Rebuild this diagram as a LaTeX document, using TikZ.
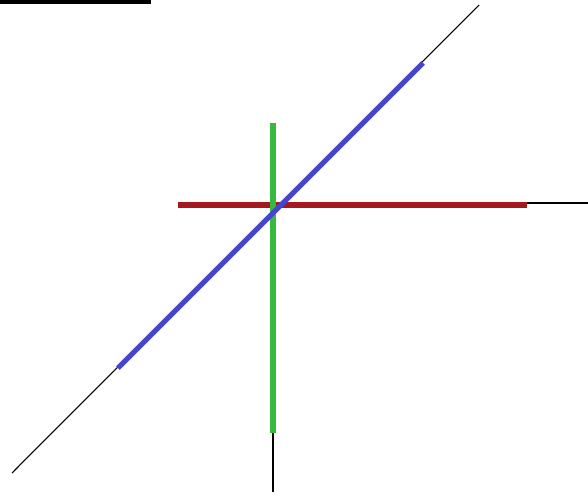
\documentclass[tikz,border=0pt]{standalone}
\usepackage{tikz}
\usetikzlibrary{positioning,calc}
\definecolor{axisred}{RGB}{165,25,30}
\definecolor{axisgreen}{RGB}{55,185,60}
\definecolor{axisblue}{RGB}{70,70,205}
\tikzset{
  thinaxis/.style={draw=black,line width=0.8pt},
  coloraxis/.style={line width=3.8pt},
}
\begin{document}
\begin{tikzpicture}[x=0.75pt,y=-0.75pt]
        \useasboundingbox (0,0) rectangle (588,496);
        \fill[black] (0,0) rectangle (151,4);
        % axis ends
        \coordinate (zlo) at (12,473);
        \coordinate (zhi) at (479,5);
        \coordinate (ylo) at (273,492);
        \coordinate (xhi) at (588,203);
        % coloured parts
        \coordinate (zbs) at (118,368);
        \coordinate (zbe) at (423,63);
        \coordinate (ygs) at (273,123);
        \coordinate (yge) at (273,433);
        \coordinate (xrs) at (178,205);
        \coordinate (xre) at (527,205);
        \draw[thinaxis] (zlo) -- (zhi);
        \draw[thinaxis] (yge) -- (ylo);
        \draw[thinaxis,line width=1.5pt] ($(xre)+(0,-2)$) -- (xhi);
        \draw[coloraxis,axisred] (xrs) -- (xre);
        \draw[coloraxis,axisgreen] (ygs) -- (yge);
        \draw[coloraxis,axisblue] (zbs) -- (zbe);
      \end{tikzpicture}
\end{document}
